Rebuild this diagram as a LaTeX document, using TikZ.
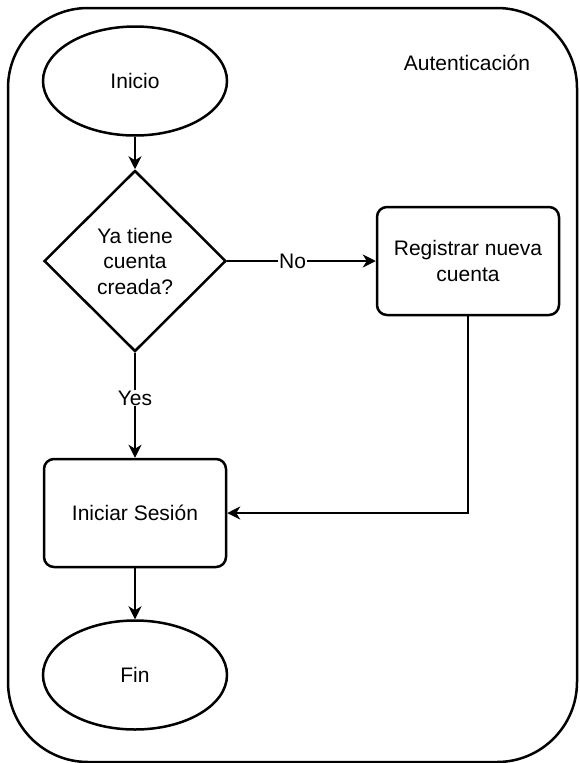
\documentclass[tikz,border=0pt]{standalone}
\usepackage{fontspec}
\setmainfont{Liberation Sans}
\usetikzlibrary{arrows.meta,shapes.geometric}
\tikzstyle{group-box}=[draw,rounded corners=80pt,line width=2.5pt,minimum width=569pt,minimum height=754pt,inner sep=0pt]
\tikzstyle{term-node}=[fill=white,ellipse,line width=2.5pt,draw,minimum width=184pt,minimum height=109pt,inner sep=0pt]
\tikzstyle{decision-node}=[fill=white,diamond,line width=2.5pt,draw,minimum width=182pt,minimum height=181pt,inner sep=0pt,align=center]
\tikzstyle{process-node}=[fill=white,rectangle,rounded corners=10pt,line width=2.5pt,draw,minimum width=182pt,minimum height=108pt,align=center]
\tikzstyle{edge-label}=[fill=white,inner sep=1pt]
\tikzstyle{black-line}=[draw=black,line width=1.5pt]

\begin{document}
\begin{tikzpicture}[x=1pt,y=-1pt,font=\fontsize{21}{25.5}\selectfont]
	\useasboundingbox (0,0) rectangle (579,763);
	\begin{scope}
	\node (auth)[group-box] at (292.5,385) {};
	\node (title) at (467,63) {Autenticación};
	
	\node (start)[term-node] at (135,81) {Inicio};
	\node (dec)[decision-node] at (135,261) {Ya tiene\\cuenta\\creada?};
	\node (reg)[process-node] at (468,261) {Registrar nueva\\cuenta};
	\node (ses)[process-node] at (135,513) {Iniciar Sesión};
	\node (end)[term-node] at (135,675) {Fin};
	\end{scope}
	
	\begin{scope}[>={Stealth[black,length=13pt,width=13pt,inset=4pt]}, every edge/.style=black-line]
	\path [->] (start) edge node {} (dec);
	\path [->] (dec) edge node[edge-label,pos=0.44] {No} (reg);
	\path [->] (dec) edge node[edge-label,pos=0.43] {Yes} (ses);
	\path [->] (ses) edge node {} (end);
	\draw [->,black-line] (reg) |- (ses);
	\end{scope}
\end{tikzpicture}
\end{document}
